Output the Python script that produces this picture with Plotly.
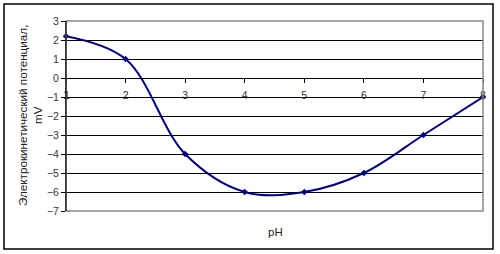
import plotly.graph_objects as go

ph = [1, 2, 3, 4, 5, 6, 7, 8]
zeta = [2.2, 1.0, -4.0, -6.0, -6.0, -5.0, -3.0, -1.0]
y_ticks = [3, 2, 1, 0, -1, -2, -3, -4, -5, -6, -7]
x_ticks = [1, 2, 3, 4, 5, 6, 7, 8]

W, H = 500, 254
L, R, T, B = 66, 17, 21, 43
pw, ph_ = W - L - R, H - T - B

def px_x(p):
    return (p - L) / pw

def px_y(p):
    return (H - B - p) / ph_

fig = go.Figure()
fig.add_trace(go.Scatter(
    x=ph, y=zeta, mode="lines+markers",
    line=dict(color="#000080", width=2, shape="spline", smoothing=1.0),
    marker=dict(symbol="diamond", size=5, color="#000080"),
    xaxis="x", yaxis="y", showlegend=False, cliponaxis=False,
))

fig.update_layout(
    width=W, height=H,
    margin=dict(l=L, r=R, t=T, b=B, pad=0, autoexpand=False),
    paper_bgcolor="white", plot_bgcolor="white",
    font=dict(family="Liberation Sans, Arial", size=10, color="#222"),
    xaxis=dict(
        range=[1, 8], tickvals=x_ticks, ticktext=[str(v) for v in x_ticks],
        showgrid=False, zeroline=False,
        anchor="free", position=(0 - (-7)) / 10,
        showline=True, linecolor="black", linewidth=1,
        ticks="outside", ticklen=4, tickcolor="black", tickwidth=1,
        ticklabelstandoff=3, ticklabeloverflow="allow",
        tickfont=dict(size=10.5, color="#333"),
        automargin=False,
    ),
    yaxis=dict(
        range=[-7, 3], tickvals=y_ticks,
        showgrid=True, gridcolor="black", gridwidth=1,
        zeroline=False,
        showline=True, linecolor="black", linewidth=1,
        ticks="outside", ticklen=4, tickcolor="black",
        tickfont=dict(size=10.5, color="#333"),
        automargin=False,
    ),
)

# first x tick label (hidden by plotly where it meets the y axis)
fig.add_annotation(
    text=str(x_ticks[0]), xref="x", yref="y", x=x_ticks[0], y=-0.9,
    showarrow=False, font=dict(size=10.5, color="#333"),
    xanchor="center", yanchor="middle", xshift=1,
)

# plot area border (gray)
fig.add_shape(type="rect", xref="paper", yref="paper", x0=0, x1=1, y0=0, y1=1,
              line=dict(color="#888888", width=1.5), layer="above")
fig.add_shape(type="line", xref="paper", yref="paper", x0=0, x1=0, y0=0, y1=1,
              line=dict(color="black", width=1), layer="above")
# outer chart border
fig.add_shape(type="rect", xref="paper", yref="paper",
              x0=px_x(4), x1=px_x(493), y0=px_y(249), y1=px_y(4),
              line=dict(color="black", width=1.5))

fig.add_annotation(
    text="Электрокинетический потенциал,<br>mV", textangle=-90,
    xref="paper", yref="paper", x=px_x(30), y=px_y(116),
    showarrow=False, font=dict(size=11.7, color="#222"),
    xanchor="center", yanchor="middle",
)
fig.add_annotation(
    text="pH", xref="paper", yref="paper", x=px_x(275), y=px_y(232),
    showarrow=False, font=dict(size=11.5, color="#222"),
    xanchor="center", yanchor="middle",
)

fig.write_html("out.html", config={"displayModeBar": False},
               post_script="document.body.style.margin='0';document.body.style.overflow='hidden';")
